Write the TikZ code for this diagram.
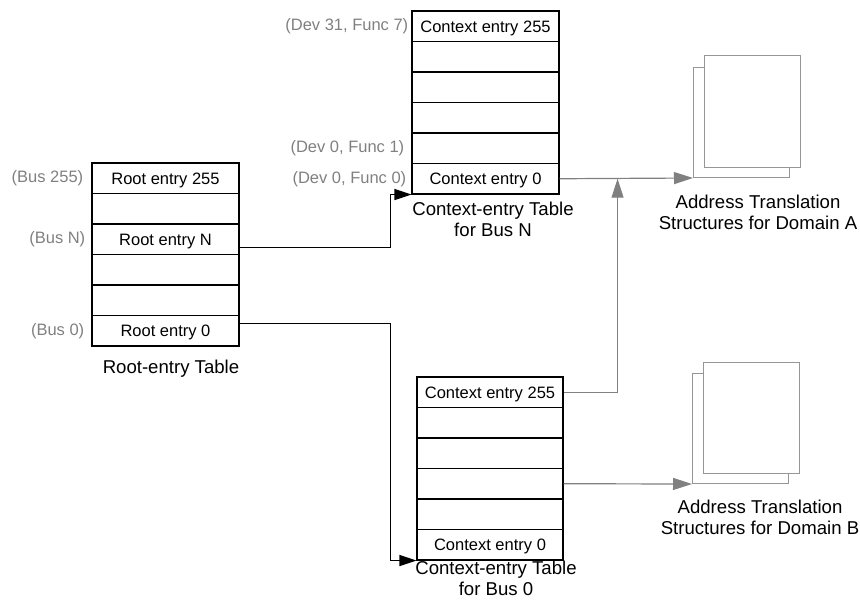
\documentclass[tikz,border=0pt]{standalone}
\usepackage{fontspec}
\setmainfont{Liberation Sans}
\usetikzlibrary{positioning, calc, arrows.meta}

\definecolor{tagcol}{RGB}{128,128,128}
\definecolor{linkcol}{RGB}{128,128,128}
\definecolor{doccol}{RGB}{150,150,150}

\begin{document}
\begin{tikzpicture}[x=1pt, y=1pt,
    cell/.style={draw, line width=1.1pt, minimum width=147pt, minimum height=30.5pt,
        inner sep=0pt, text height=11.8pt, text depth=0pt, font=\fontsize{16.5}{18}\selectfont},
    tag/.style={text=tagcol, inner sep=0pt, font=\fontsize{16.5}{18}\selectfont},
    tabtitle/.style={align=center, font=\fontsize{18.6}{21}\selectfont},
    doc/.style={draw=doccol, line width=1.1pt, fill=white, minimum width=96pt,
        minimum height=110pt, inner sep=0pt, anchor=south west},
    link/.style={line width=1.3pt, -{Triangle[length=17pt,width=11pt]}},
    glink/.style={color=linkcol, line width=1.2pt, -{Triangle[length=19pt,width=12pt]}}]
    \useasboundingbox (0,0) rectangle (860,608);

    % Root-entry table
    \foreach \n/\t [count=\i from 0] in {rt255/Root entry 255, rta/{}, rtN/Root entry N, rtb/{}, rtc/{}, rt0/Root entry 0}
        \node[cell] (\n) at (165.5, {429.75-30.5*\i}) {\t};
    \node[tag, left=8pt of rt255] (b255) {(Bus 255)};
    \node[tag, left=6pt of rtN] (bN) {(Bus N)};
    \node[tag, left=7pt of rt0] (b0) {(Bus 0)};
    \node[tabtitle] (capR) at (171,239) {Root-entry Table};

    % context table for bus N
    \foreach \n/\t [count=\i from 0] in {n255/Context entry 255, na/{}, nb/{}, nc/{}, nd/{}, n0/Context entry 0}
        \node[cell] (\n) at (485.5, {581.75-30.5*\i}) {\t};
    \node[tag, left=3pt of n255] (d317) {(Dev 31, Func 7)};
    \node[tag, left=7pt of nd] (d01) {(Dev 0, Func 1)};
    \node[tag, left=5pt of n0] (d00) {(Dev 0, Func 0)};
    \node[tabtitle] (capN) at (493,388.5) {Context-entry Table\\for Bus N};

    % context table for bus 0
    \foreach \n/\t [count=\i from 0] in {z255/Context entry 255, za/{}, zb/{}, zc/{}, zd/{}, z0/Context entry 0}
        \node[cell, minimum width=146pt] (\n) at (490, {215.75-30.5*\i}) {\t};
    \node[tabtitle] (capZ) at (496,30) {Context-entry Table\\for Bus 0};

    % domains
    \node[doc] (a1) at (693,430) {};
    \node[doc, minimum height=112pt] (a2) at (704,440) {};
    \node[tabtitle] (capA) at (758,396) {Address Translation\\Structures for Domain A};
    \node[doc] (b1) at (692,124) {};
    \node[doc, minimum height=111pt] (b2) at (703,134) {};
    \node[tabtitle] (capB) at (760,90.5) {Address Translation\\Structures for Domain B};

    \coordinate (j) at ($(n0.east)+(58,0)$);

    \draw[link] ([yshift=-8.5pt]rtN.east) -- ++(151,0) |- (n0.south west);
    \draw[link] ([yshift=7.5pt]rt0.east) -- ++(151,0) |- (z0.south west);
    \draw[glink] (n0.east) -- (a1.south west);
    \draw[glink] (z255.east) -| (j);
    \draw[glink] (zc.east) -- (b1.south west);
\end{tikzpicture}
\end{document}
